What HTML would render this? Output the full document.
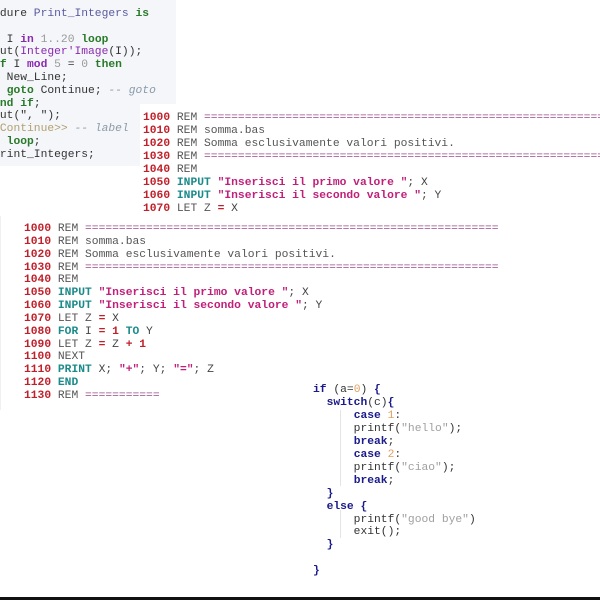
<!DOCTYPE html>
<html><head><meta charset="utf-8"><style>
html,body{margin:0;padding:0;width:600px;height:600px;overflow:hidden;background:#fff;position:relative}
pre{margin:0;font-family:"Liberation Mono",monospace;font-size:11.3px;position:absolute;color:#444;white-space:pre}
.p{position:absolute;overflow:hidden}
.n{color:#c0202a;font-weight:bold}
.r{color:#555}
.e{color:#9a4a8a}
.k{color:#1a8a8a;font-weight:bold}
.s{color:#c0207a;font-weight:bold}
.d{color:#c0202a;font-weight:bold}
.g{color:#2a7a2a;font-weight:bold}
.v{color:#8a2ab0;font-weight:bold}
.c{color:#8a9aaa;font-style:italic}
.m{color:#999}
.b{color:#1a1a8a;font-weight:bold}
.o{color:#e0a060}
.q{color:#a0a0a0}
</style></head><body>
<div class="p" style="left:0;top:0;width:176px;height:166px;background:#f4f6f9">
<pre style="left:-34px;top:8px;line-height:12.8px;color:#333">procedure <span style="color:#5a5aa0">Print_Integers</span> <span class="g">is</span>
<span class="g">begin</span>
  <span class="g">for</span> I <span class="v">in</span> <span class="m">1..20</span> <span class="g">loop</span>
    Put(<span style="color:#8a2ab0">Integer'Image</span>(I));
    <span class="g">if</span> I <span class="v">mod</span> <span class="m">5</span> = <span class="m">0</span> <span class="g">then</span>
      New_Line;
      <span class="g">goto</span> Continue; <span class="c">-- goto</span>
    <span class="g">end if</span>;
    Put(", ");
   <span style="color:#b0a070">&lt;&lt;Continue&gt;&gt;</span> <span class="c">-- label</span>
  <span class="g">end loop</span>;
end Print_Integers;</pre>
</div>
<div class="p" style="left:140px;top:104px;width:460px;height:112px;background:#fff">
<pre style="left:3px;top:8px;line-height:13px"><span class="n">1000</span> <span class="r">REM</span> <span class="e">=====================================================================</span>
<span class="n">1010</span> <span class="r">REM somma.bas</span>
<span class="n">1020</span> <span class="r">REM Somma esclusivamente valori positivi.</span>
<span class="n">1030</span> <span class="r">REM</span> <span class="e">=====================================================================</span>
<span class="n">1040</span> <span class="r">REM</span>
<span class="n">1050</span> <span class="k">INPUT</span> <span class="s">"Inserisci il primo valore "</span>; X
<span class="n">1060</span> <span class="k">INPUT</span> <span class="s">"Inserisci il secondo valore "</span>; Y
<span class="n">1070</span> <span class="r">LET Z</span> <span class="d">=</span> X</pre>
</div>
<div class="p" style="left:0;top:216px;width:520px;height:194px;background:#fff;border-left:1px solid #f0f0f0">
<pre style="left:23px;top:7px;line-height:12.85px"><span class="n">1000</span> <span class="r">REM</span> <span class="e">=============================================================</span>
<span class="n">1010</span> <span class="r">REM somma.bas</span>
<span class="n">1020</span> <span class="r">REM Somma esclusivamente valori positivi.</span>
<span class="n">1030</span> <span class="r">REM</span> <span class="e">=============================================================</span>
<span class="n">1040</span> <span class="r">REM</span>
<span class="n">1050</span> <span class="k">INPUT</span> <span class="s">"Inserisci il primo valore "</span>; X
<span class="n">1060</span> <span class="k">INPUT</span> <span class="s">"Inserisci il secondo valore "</span>; Y
<span class="n">1070</span> <span class="r">LET Z</span> <span class="d">=</span> X
<span class="n">1080</span> <span class="k">FOR</span> I <span class="d">=</span> <span class="d">1</span> <span class="k">TO</span> Y
<span class="n">1090</span> <span class="r">LET Z</span> <span class="d">=</span> Z <span class="d">+</span> <span class="d">1</span>
<span class="n">1100</span> <span class="r">NEXT</span>
<span class="n">1110</span> <span class="k">PRINT</span> X; <span class="s">"+"</span>; Y; <span class="s">"="</span>; Z
<span class="n">1120</span> <span class="k">END</span>
<span class="n">1130</span> <span class="r">REM</span> <span class="e">===========</span></pre>
</div>
<div class="p" style="left:300px;top:376px;width:300px;height:220px;background:#fff">
<div style="position:absolute;left:40px;top:34px;width:1px;height:76px;background:#e4e4e4"></div>
<div style="position:absolute;left:40px;top:134px;width:1px;height:28px;background:#e4e4e4"></div>
<pre style="left:13px;top:8px;line-height:12.95px;color:#333"><span class="b">if</span> (a=<span class="o">0</span>) <span class="b">{</span>
  <span class="b">switch</span>(c)<span class="b">{</span>
      <span class="b">case</span> <span class="o">1</span>:
      printf(<span class="q">"hello"</span>);
      <span class="b">break</span>;
      <span class="b">case</span> <span class="o">2</span>:
      printf(<span class="q">"ciao"</span>);
      <span class="b">break</span>;
  <span class="b">}</span>
  <span class="b">else</span> <span class="b">{</span>
      printf(<span class="q">"good bye"</span>)
      exit();
  <span class="b">}</span>

<span class="b">}</span></pre>
</div>
<div style="position:absolute;left:0;top:597px;width:600px;height:3px;background:#111"></div>
</body></html>
